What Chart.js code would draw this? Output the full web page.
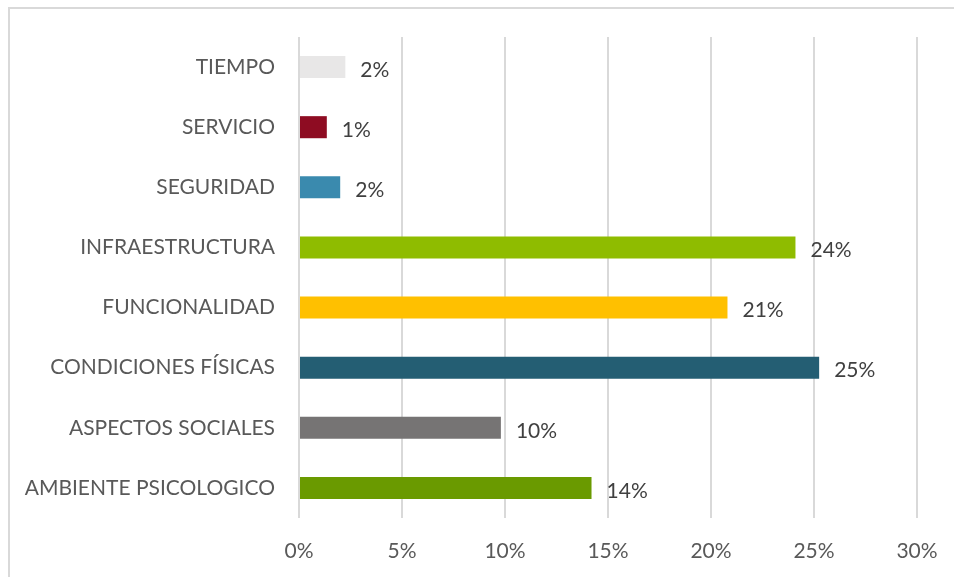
<!DOCTYPE html>
<html>
<head>
<meta charset="utf-8">
<script src="https://cdn.jsdelivr.net/npm/chart.js@4/dist/chart.umd.min.js"></script>
<style>
  html, body { margin: 0; padding: 0; background: #fff; }
  #wrap { position: relative; width: 954px; height: 577px; }
</style>
</head>
<body>
<div id="wrap"><canvas id="factorsChart" width="954" height="577"></canvas></div>
<script>
// categories, top to bottom
const categories = ['TIEMPO', 'SERVICIO', 'SEGURIDAD', 'INFRAESTRUCTURA', 'FUNCIONALIDAD',
  'CONDICIONES FÍSICAS', 'ASPECTOS SOCIALES', 'AMBIENTE PSICOLOGICO'];
// bar lengths (percent)
const values = [2.25, 1.35, 2.0, 24.1, 20.8, 25.25, 9.8, 14.2];
// printed labels
const valueLabels = ['2%', '1%', '2%', '24%', '21%', '25%', '10%', '14%'];
const barColors = ['#e8e7e7', '#8e0c22', '#3a8aae', '#8fbc00', '#ffc000', '#245e73', '#767474', '#6a9a00'];
const xTicks = [0, 5, 10, 15, 20, 25, 30];

const FONT = 'Lato, "Open Sans", sans-serif';

// frame around the chart (only top and left show in the picture)
const framePlugin = {
  id: 'frame',
  beforeDraw(chart) {
    const ctx = chart.ctx;
    ctx.save();
    ctx.strokeStyle = '#d9d9d9';
    ctx.lineWidth = 2;
    ctx.beginPath();
    ctx.moveTo(9, chart.height);
    ctx.lineTo(9, 8);
    ctx.lineTo(chart.width, 8);
    ctx.stroke();
    ctx.restore();
  }
};

// value labels to the right of each bar
const valueLabelPlugin = {
  id: 'valueLabels',
  afterDatasetsDraw(chart) {
    const ctx = chart.ctx;
    const meta = chart.getDatasetMeta(0);
    ctx.save();
    ctx.font = '21px ' + FONT;
    ctx.fillStyle = '#404040';
    ctx.textAlign = 'left';
    ctx.textBaseline = 'middle';
    meta.data.forEach((bar, i) => {
      ctx.fillText(valueLabels[i], bar.x + 15, bar.y + 3);
    });
    ctx.restore();
  }
};

const ctx = document.getElementById('factorsChart').getContext('2d');
new Chart(ctx, {
  type: 'bar',
  data: {
    labels: categories,
    datasets: [{
      data: values,
      backgroundColor: barColors,
      borderWidth: 0,
      barPercentage: 0.367,
      categoryPercentage: 1
    }]
  },
  options: {
    indexAxis: 'y',
    responsive: false,
    animation: false,
    layout: { padding: { left: 0, right: 37, top: 37, bottom: 0 } },
    plugins: {
      legend: { display: false },
      tooltip: { enabled: false }
    },
    scales: {
      x: {
        min: 0,
        max: 30,
        afterBuildTicks: scale => { scale.ticks = xTicks.map(v => ({ value: v })); },
        afterFit: scale => {
          scale.height = 59;
          scale.paddingLeft = 0;
          scale.paddingRight = 0;
        },
        ticks: {
          callback: v => v + '%',
          color: '#595959',
          font: { family: FONT, size: 21 },
          padding: 21
        },
        grid: { color: '#d9d9d9', lineWidth: 2, drawTicks: false },
        border: { display: false }
      },
      y: {
        afterFit: scale => { scale.width = 299; },
        ticks: {
          color: '#595959',
          font: { family: FONT, size: 21 },
          padding: 24
        },
        grid: { display: false, drawTicks: false },
        border: { display: false }
      }
    }
  },
  plugins: [framePlugin, valueLabelPlugin]
});
</script>
</body>
</html>
